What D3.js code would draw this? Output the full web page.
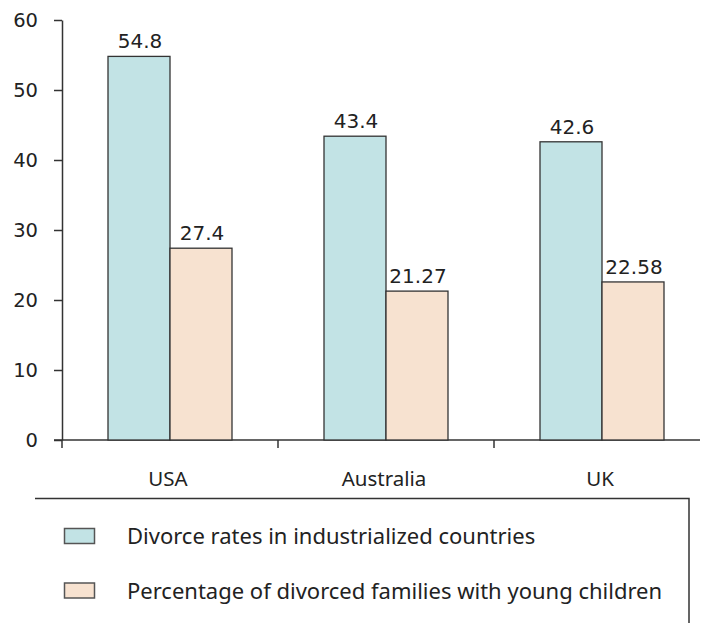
<!DOCTYPE html>
<html>
<head>
<meta charset="utf-8">
<script src="https://cdn.jsdelivr.net/npm/d3@7/dist/d3.min.js"></script>
<style>
  html, body { margin: 0; padding: 0; background: #fff; }
  svg { display: block; }
</style>
</head>
<body>
<svg id="chart" width="703" height="623"></svg>
<script>
// Divorce statistics by country
const countries = ["USA", "Australia", "UK"];
const seriesNames = [
  "Divorce rates in industrialized countries",
  "Percentage of divorced families with young children"
];
const divorceRates = [54.8, 43.4, 42.6];
const youngChildren = [27.4, 21.27, 22.58];
const valueLabels = [["54.8", "43.4", "42.6"], ["27.4", "21.27", "22.58"]];
const yTicks = [0, 10, 20, 30, 40, 50, 60];

const seriesColors = ["#c2e3e5", "#f7e2d0"];
const ink = "#333";
const numFont = "DejaVu Sans, Verdana, sans-serif";
const textFont = "'Noto Sans', 'Open Sans', sans-serif";

const svg = d3.select("#chart");
const plotLeft = 62, plotTop = 20, plotBottom = 440;
const bandW = 216;

const x = d3.scaleBand()
  .domain(countries)
  .range([plotLeft, plotLeft + bandW * countries.length])
  .paddingInner(0).paddingOuter(0);

const inner = d3.scaleBand()
  .domain([0, 1])
  .range([0, x.bandwidth()])
  .paddingOuter(0.742).paddingInner(0);

const y = d3.scaleLinear().domain([0, 60]).range([plotBottom, plotTop]);

// Y axis
const yAxis = svg.append("g")
  .attr("transform", `translate(${plotLeft},0)`)
  .call(d3.axisLeft(y).tickValues(yTicks).tickSize(8).tickSizeOuter(0).tickPadding(16));
yAxis.select(".domain").attr("stroke", ink).attr("stroke-width", 1.5);
yAxis.selectAll(".tick line").attr("stroke", ink).attr("stroke-width", 1.5);
yAxis.selectAll(".tick text")
  .attr("font-family", numFont).attr("font-size", 19.5).attr("fill", "#222");

// X axis baseline with category ticks at band edges
const xAxisG = svg.append("g");
xAxisG.append("line")
  .attr("x1", plotLeft - 8).attr("x2", 700)
  .attr("y1", y(0)).attr("y2", y(0))
  .attr("stroke", ink).attr("stroke-width", 1.5);
xAxisG.selectAll("line.edge")
  .data(countries)
  .join("line")
  .attr("class", "edge")
  .attr("x1", d => x(d)).attr("x2", d => x(d))
  .attr("y1", y(0)).attr("y2", y(0) + 8)
  .attr("stroke", ink).attr("stroke-width", 1.5);
xAxisG.selectAll("text")
  .data(countries)
  .join("text")
  .attr("x", d => x(d) + x.bandwidth() / 2 - 2)
  .attr("y", 486)
  .attr("text-anchor", "middle")
  .attr("font-family", textFont).attr("font-size", 20.5).attr("fill", "#222")
  .text(d => d);

// Bars
const series = [divorceRates, youngChildren];
const bars = [];
series.forEach((vals, s) => {
  vals.forEach((v, i) => bars.push({ s, i, v, label: valueLabels[s][i] }));
});

svg.append("g").selectAll("rect")
  .data(bars)
  .join("rect")
  .attr("x", d => x(countries[d.i]) + inner(d.s))
  .attr("y", d => y(d.v))
  .attr("width", inner.bandwidth())
  .attr("height", d => y(0) - y(d.v))
  .attr("fill", d => seriesColors[d.s])
  .attr("stroke", ink).attr("stroke-width", 1.3);

svg.append("g").selectAll("text")
  .data(bars)
  .join("text")
  .attr("x", d => x(countries[d.i]) + inner(d.s) + inner.bandwidth() / 2 + 1)
  .attr("y", d => y(d.v) - 8)
  .attr("text-anchor", "middle")
  .attr("font-family", numFont).attr("font-size", 20).attr("fill", "#222")
  .text(d => d.label);

// Legend frame (top and right edges)
svg.append("path")
  .attr("d", "M35,498.5 H689 V623")
  .attr("fill", "none").attr("stroke", ink).attr("stroke-width", 1.5);

const legend = svg.append("g").selectAll("g")
  .data(seriesNames)
  .join("g")
  .attr("transform", (d, i) => `translate(0,${i * 54.5})`);
legend.append("rect")
  .attr("x", 64.5).attr("y", 528.5)
  .attr("width", 30).attr("height", 15)
  .attr("fill", (d, i) => seriesColors[i])
  .attr("stroke", "#555").attr("stroke-width", 1.5);
legend.append("text")
  .attr("x", 127).attr("y", 544)
  .attr("font-family", textFont).attr("font-size", 22).attr("fill", "#222")
  .text(d => d);
</script>
</body>
</html>
